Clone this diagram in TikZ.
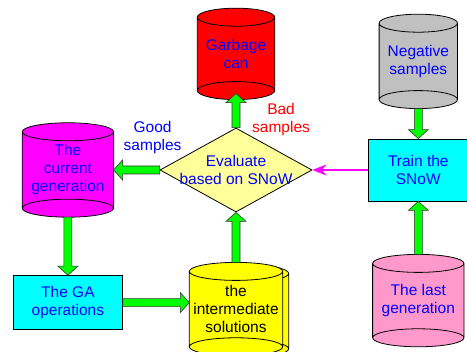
\documentclass[tikz,border=0pt]{standalone}
\usepackage{fontspec}
\setmainfont{Liberation Sans}
\usetikzlibrary{arrows.meta,positioning,calc,shapes.geometric,backgrounds}
\definecolor{paleyellow}{RGB}{255,255,153}
\definecolor{lastpink}{RGB}{255,153,204}
\definecolor{neggray}{RGB}{192,192,192}
\definecolor{boxcyan}{RGB}{0,255,255}
\definecolor{genmagenta}{RGB}{255,0,255}
\definecolor{solyellow}{RGB}{255,255,0}
\definecolor{binred}{RGB}{255,0,0}
\definecolor{flowgreen}{RGB}{0,255,0}
\definecolor{textblue}{RGB}{0,0,255}
\tikzset{
  >=Stealth,
  every node/.append style={font=\fontsize{15.5}{18}\selectfont},
}
\tikzset{
  can/.style={rectangle, inner sep=0pt, align=center, text=textblue},
  canline/.style={draw=black, line width=0.8pt},
  box/.style={rectangle, draw=black, line width=0.8pt, fill=boxcyan, align=center, text=textblue},
  blockarrow/.style={draw=black!80, fill=flowgreen, line width=0.6pt,
    to path={
      ($(\tikztostart)!4pt!90:(\tikztotarget)$)
      -- ($(\tikztotarget)!9pt!(\tikztostart)!4pt!90:(\tikztotarget)$)
      -- ($(\tikztotarget)!9pt!(\tikztostart)!10pt!90:(\tikztotarget)$)
      -- (\tikztotarget)
      -- ($(\tikztotarget)!9pt!(\tikztostart)!10pt!-90:(\tikztotarget)$)
      -- ($(\tikztotarget)!9pt!(\tikztostart)!4pt!-90:(\tikztotarget)$)
      -- ($(\tikztostart)!4pt!-90:(\tikztotarget)$) -- cycle
    }},
  lbl/.style={align=center, inner sep=0pt}
}
% can body behind a named node: #1 node, #2 fill
\newcommand{\drawcan}[2]{%
  \fill[#2] let \p1=(#1.north west), \p2=(#1.south east), \n1={(\x2-\x1)/2} in
    (\x1,\y1-9pt) -- (\x1,\y2+9pt) arc[start angle=180, end angle=360, x radius=\n1, y radius=9pt]
    -- (\x2,\y1-9pt) arc[start angle=0, end angle=180, x radius=\n1, y radius=9pt] -- cycle;
  \draw[canline] let \p1=(#1.north west), \p2=(#1.south east), \n1={(\x2-\x1)/2} in
    (\x1,\y1-9pt) -- (\x1,\y2+9pt) (\x2,\y1-9pt) -- (\x2,\y2+9pt)
    (\x1+\n1,\y1-9pt) ellipse[x radius=\n1, y radius=9pt]
    (\x1+\n1,\y2+9pt) ellipse[x radius=\n1, y radius=9pt];
}
\begin{document}
\begin{tikzpicture}[x=1pt, y=1pt,
  decision/.style={diamond, draw=black, line width=0.8pt, fill=paleyellow, aspect=1.8, inner sep=0pt, minimum width=152pt, minimum height=84pt},
  snowarrow/.style={-{Stealth[length=14pt, width=11pt]}, line width=1.8pt, color=genmagenta}
]
\useasboundingbox (0,0) rectangle (467,352);

% Evaluation (central diamond)
\node[decision, label={[lbl, text=textblue]center:Evaluate\\based on SNoW}] (eval) at (236,182) {};

% Cans around it
\node[can, minimum width=77pt, minimum height=91pt, above=28pt of eval] (garbage) {Garbage\\can};
\node[can, minimum width=91pt, minimum height=94pt, left=46pt of eval] (curgen) {The\\current\\generation};
\node[can, text=black, minimum width=93pt, minimum height=93pt, below=50pt of eval] (inter) {the\\intermediate\\solutions};

% GA step
\node[box, minimum width=109pt, minimum height=54pt, below=58pt of curgen] (ga) {The GA\\operations};

% SNoW training (right column)
\node[box, minimum width=99pt, minimum height=62pt, right=56pt of eval] (train) {Train the\\SNoW};
\node[can, minimum width=78pt, minimum height=94pt, above=30pt of train] (neg) {Negative\\samples};
\node[can, minimum width=91pt, minimum height=92pt, below=53pt of train] (last) {The last\\generation};

% Can bodies
\begin{scope}[on background layer]
  \begin{scope}[transform canvas={xshift=6pt, yshift=-2pt}]
    \drawcan{inter}{solyellow}
  \end{scope}
  \drawcan{garbage}{binred}
  \drawcan{curgen}{genmagenta}
  \drawcan{inter}{solyellow}
  \drawcan{neg}{neggray}
  \drawcan{last}{lastpink}
\end{scope}

% Flow
\path[blockarrow] (eval.north) to ([yshift=6pt]garbage.south);
\path[blockarrow] (eval.west) to (curgen.east);
\path[blockarrow] (curgen.south) to (ga.north);
\path[blockarrow] (ga.east) to (ga.east -| inter.west);
\path[blockarrow] (inter.north) to (eval.south);
\path[blockarrow] (neg.south) to (train.north);
\path[blockarrow] (last.north) to (train.south);
\draw[snowarrow] (train.west) -- (eval.east);

% Labels
\node[lbl, text=textblue, above=16pt of eval.west, xshift=-7pt] (good) {Good\\samples};
\node[lbl, text=binred, right=16pt of eval.north, yshift=8pt] (bad) {Bad\\samples};

\end{tikzpicture}
\end{document}
